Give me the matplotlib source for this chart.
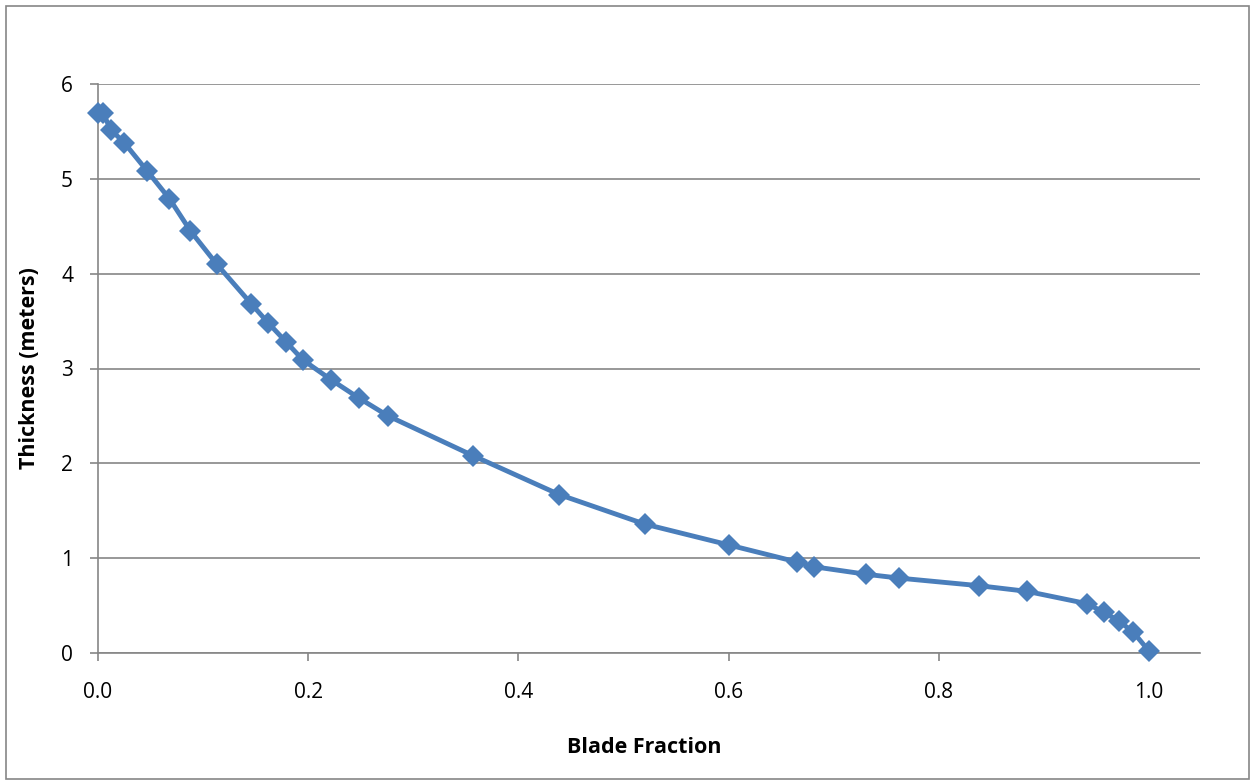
import matplotlib.pyplot as plt
from matplotlib.patches import Rectangle

# Dữ liệu
blade_fraction = [0.0, 0.005, 0.012, 0.025, 0.047, 0.068, 0.088, 0.113, 0.146, 0.162,
                  0.179, 0.195, 0.222, 0.248, 0.276, 0.357, 0.439, 0.520, 0.600, 0.665,
                  0.681, 0.731, 0.762, 0.838, 0.884, 0.941, 0.957, 0.971, 0.985, 1.0]
thickness = [5.69, 5.69, 5.52, 5.38, 5.08, 4.79, 4.45, 4.10, 3.68, 3.48,
             3.28, 3.09, 2.88, 2.69, 2.50, 2.08, 1.67, 1.36, 1.14, 0.96,
             0.91, 0.83, 0.79, 0.71, 0.65, 0.52, 0.43, 0.34, 0.22, 0.02]
x_ticks = [0.0, 0.2, 0.4, 0.6, 0.8, 1.0]
y_ticks = [0, 1, 2, 3, 4, 5, 6]

plt.rcParams['font.family'] = ['Open Sans', 'DejaVu Sans']
grid_color = '#868686'
line_color = '#4a7ebb'

fig = plt.figure(figsize=(12.54, 7.84), dpi=100)
ax = fig.add_axes([98 / 1254, 1 - 653 / 784, 1102 / 1254, 569 / 784])

# Đường viền ngoài của biểu đồ
fig.patches.append(Rectangle((5.5 / 1254, 5.5 / 784), 1243 / 1254, 773 / 784,
                             transform=fig.transFigure, fill=False,
                             edgecolor=grid_color, linewidth=1.2))

ax.plot(blade_fraction, thickness, color=line_color, linewidth=3.5,
        marker='D', markersize=11, markeredgewidth=0, markerfacecolor=line_color,
        clip_on=False, zorder=3)

ax.set_xlim(0, 1.0485)
ax.set_ylim(0, 6)
ax.set_xticks(x_ticks)
ax.set_xticklabels([f'{v:.1f}' for v in x_ticks])
ax.set_yticks(y_ticks)

ax.grid(True, axis='y', color=grid_color, linewidth=1.2)
ax.set_axisbelow(True)
for side in ['top', 'right']:
    ax.spines[side].set_visible(False)
for side in ['left', 'bottom']:
    ax.spines[side].set_color(grid_color)
    ax.spines[side].set_linewidth(1.2)

ax.tick_params(axis='x', direction='out', length=6, width=1.2, color=grid_color,
               labelsize=15, pad=15)
ax.tick_params(axis='y', direction='out', length=6, width=1.2, color=grid_color,
               labelsize=15, pad=12)

ax.set_xlabel('Blade Fraction', fontsize=15.5, fontweight='bold')
ax.set_ylabel('Thickness (meters)', fontsize=15.5, fontweight='bold')
ax.xaxis.set_label_coords(0.496, -0.148)
ax.yaxis.set_label_coords(-0.053, 0.5)

plt.savefig('out.png', dpi=100)
